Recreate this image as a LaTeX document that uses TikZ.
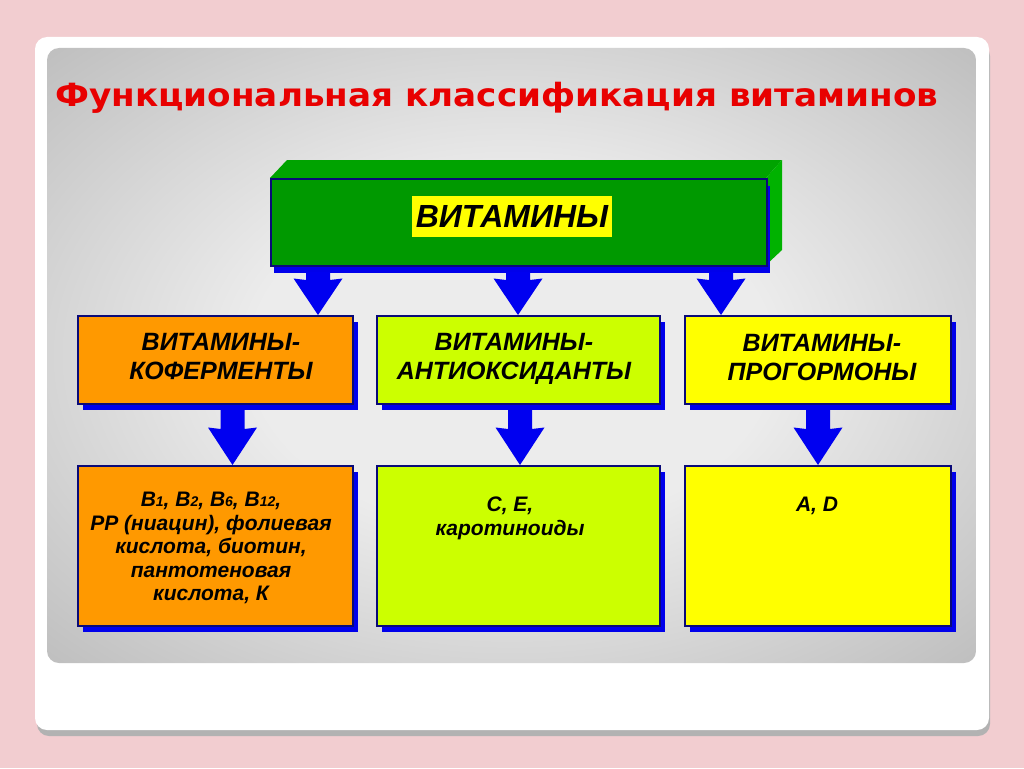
\documentclass[tikz,border=0pt]{standalone}
\usepackage{fontspec}
\setmainfont{Liberation Sans}
\newfontfamily\titlefont{DejaVu Sans}[FakeStretch=1.07]
\usetikzlibrary{shadows,calc}
\definecolor{bgpink}{RGB}{242,205,208}
\definecolor{panelA}{RGB}{236,236,236}
\definecolor{panelB}{RGB}{160,160,160}
\definecolor{titlered}{RGB}{232,0,0}
\definecolor{gfront}{RGB}{0,153,0}
\definecolor{gtop}{RGB}{0,163,0}
\definecolor{gside}{RGB}{0,178,0}
\definecolor{bshadow}{RGB}{0,0,235}
\definecolor{arrowblue}{RGB}{0,0,240}
\definecolor{edgeblue}{RGB}{10,10,120}
\definecolor{orangebox}{RGB}{255,153,0}
\definecolor{limebox}{RGB}{204,255,0}
\definecolor{yellowbox}{RGB}{255,255,0}
\pgfdeclareradialshading{panelshade}{\pgfpoint{0bp}{0bp}}{color(0bp)=(panelA); color(14bp)=(panelA); color(50bp)=(panelB)}
\newcommand{\vitarrow}[3]{%
  \fill[arrowblue] let \p1=(#1), \p2=(#2) in
  (\x1-12pt,\y1) -- (\x1-12pt,\y2+#3) -- (\x1-24.5pt,\y2+#3+1.5pt) -- (\x1,\y2)
  -- (\x1+24.5pt,\y2+#3+1.5pt) -- (\x1+12pt,\y2+#3) -- (\x1+12pt,\y1) -- cycle;}
\tikzset{
  vbox/.style={anchor=north west, draw=edgeblue, line width=1.8pt, inner sep=0pt,
    drop shadow={fill=bshadow, opacity=1, shadow xshift=5pt, shadow yshift=-6pt}},
  mtxt/.style={anchor=north, align=center, inner sep=0pt,
    font=\bfseries\itshape\fontsize{25}{29}\selectfont},
  btxt/.style={anchor=north, align=center, inner sep=0pt,
    font=\bfseries\itshape\fontsize{21}{23.5}\selectfont},
  titletxt/.style={anchor=base west, inner sep=0pt,
    font=\titlefont\bfseries\fontsize{32}{36}\selectfont},
}
\newcommand{\sbs}[1]{{\fontsize{14}{14}\selectfont #1}}
\begin{document}
\begin{tikzpicture}[x=1pt,y=-1pt]
\useasboundingbox (0,0) rectangle (1024,768);
\fill[bgpink] (0,0) rectangle (1024,768);
% card
\fill[black!30, rounded corners=12pt] (37,44) rectangle (990,736);
\fill[white, rounded corners=12pt] (35,37) rectangle (989,730);
\shade[shading=panelshade, rounded corners=12pt] (47,48) rectangle (976,663);
% title
\node[titletxt, text=titlered] (title) at (55,106)
  {Функциональная классификация витаминов};
% green 3D box
\fill[gtop] (270,178) -- (287,160) -- (782,160) -- (766,178) -- cycle;
\fill[gside] (766,178) -- (782,160) -- (782,250) -- (766,265) -- cycle;
\node[anchor=north west, minimum width=496pt, minimum height=87pt, fill=gfront,
  draw=edgeblue, line width=1.8pt, inner sep=0pt,
  drop shadow={fill=bshadow, opacity=1, shadow xshift=3pt, shadow yshift=-7pt}] (vit) at (270,178) {};
\node[fill=yellowbox, inner xsep=4pt, inner ysep=0pt, minimum height=41pt,
  font=\bfseries\itshape\fontsize{32}{36}\selectfont] (vitlabel) at (512,216.5) {ВИТАМИНЫ};
% middle boxes
\node[vbox, fill=orangebox, minimum width=275pt, minimum height=88pt] (m1) at (77,315) {};
\node[vbox, fill=limebox, minimum width=283pt, minimum height=88pt] (m2) at (376,315) {};
\node[vbox, fill=yellowbox, minimum width=266pt, minimum height=88pt] (m3) at (684,315) {};
\node[mtxt] (m1t) at (221,333) {ВИТАМИНЫ-\\КОФЕРМЕНТЫ};
\node[mtxt] (m2t) at (514,333) {ВИТАМИНЫ-\\АНТИОКСИДАНТЫ};
\node[mtxt] (m3t) at (822,334) {ВИТАМИНЫ-\\ПРОГОРМОНЫ};
% bottom boxes
\node[vbox, fill=orangebox, minimum width=275pt, minimum height=160pt] (b1) at (77,465) {};
\node[vbox, fill=limebox, minimum width=283pt, minimum height=160pt] (b2) at (376,465) {};
\node[vbox, fill=yellowbox, minimum width=266pt, minimum height=160pt] (b3) at (684,465) {};
\node[btxt] (b1t) at (211,492) {B\sbs{1}, B\sbs{2}, B\sbs{6}, B\sbs{12},\\PP (ниацин), фолиевая\\кислота, биотин,\\пантотеновая\\кислота, К};
\node[btxt] (b2t) at (510,497) {C, E,\\каротиноиды};
\node[btxt] (b3t) at (817,497) {A, D};
% arrows
\coordinate (a1s) at (318,272);
\coordinate (a2s) at (518,272);
\coordinate (a3s) at (721,272);
\vitarrow{a1s}{a1s |- m1.north}{35pt}
\vitarrow{a2s}{a2s |- m2.north}{35pt}
\vitarrow{a3s}{a3s |- m3.north}{35pt}
\coordinate (c1s) at (232.5,410);
\coordinate (c2s) at (520,410);
\coordinate (c3s) at (818,410);
\vitarrow{c1s}{c1s |- b1.north}{36pt}
\vitarrow{c2s}{c2s |- b2.north}{36pt}
\vitarrow{c3s}{c3s |- b3.north}{36pt}
\end{tikzpicture}
\end{document}
